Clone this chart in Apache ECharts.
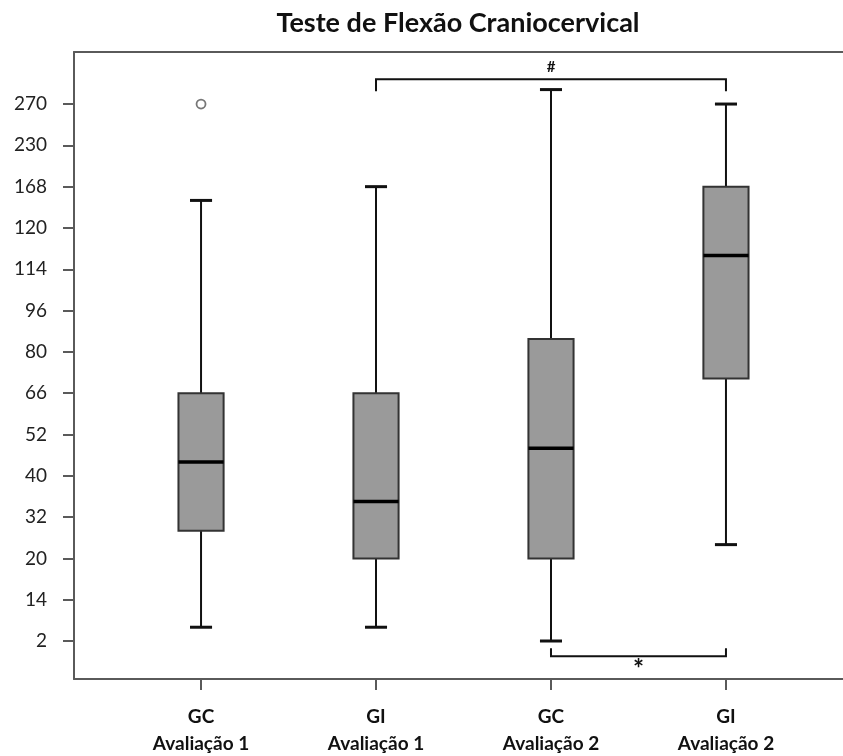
<!DOCTYPE html>
<html><head><meta charset="utf-8">
<script src="https://cdn.jsdelivr.net/npm/echarts@6/dist/echarts.min.js"></script>
<style>html,body{margin:0;padding:0;background:#fff;overflow:hidden}#c{width:843px;height:756px}</style>
</head><body><div id="c"></div>
<script>
// ---- data ----
const categories = ['GC\nAvaliação 1', 'GI\nAvaliação 1', 'GC\nAvaliação 2', 'GI\nAvaliação 2'];
const yTickLabels = [2, 14, 20, 32, 40, 52, 66, 80, 96, 114, 120, 168, 230, 270];
const whiskerLow  = [6, 6, 2, 24];
const q1          = [28, 20, 20, 71];
const median      = [44, 35, 48, 116];
const q3          = [66, 66, 85, 168];
const whiskerHigh = [152, 168, 284, 270];
const outliers    = [[0, 270]];
const sigFrom  = [1, 2];
const sigTo    = [3, 3];
const sigLevel = [294, -2.4];
const sigLabel = ['#', '*'];

// value -> position on the evenly spaced (ordinal-looking) axis
function toPos(v) {
  const t = yTickLabels, n = t.length;
  if (v <= t[0]) return (v - t[0]) / (t[1] - t[0]);
  if (v >= t[n - 1]) return (n - 1) + (v - t[n - 1]) / (t[n - 1] - t[n - 2]);
  for (let i = 0; i < n - 1; i++) {
    if (v >= t[i] && v <= t[i + 1]) return i + (v - t[i]) / (t[i + 1] - t[i]);
  }
}

const FONT = 'Lato, "Open Sans", sans-serif';
const chart = echarts.init(document.getElementById('c'), null, {renderer: 'canvas'});

const boxData = categories.map((c, i) => [i, toPos(whiskerLow[i]), toPos(q1[i]), toPos(median[i]), toPos(q3[i]), toPos(whiskerHigh[i])]);
const sigData = sigFrom.map((f, i) => [f, sigTo[i], toPos(sigLevel[i]), i === 0 ? 1 : -1, i]);
const AX = {color: '#5a5a5a', width: 2};

chart.setOption({
  animation: false,
  backgroundColor: '#fff',
  graphic: [{
    type: 'text', x: 458, y: 23,
    style: {text: 'Teste de Flexão Craniocervical', fill: '#111', font: 'bold 27px ' + FONT,
            textAlign: 'center', textVerticalAlign: 'middle'}
  }, {
    type: 'rect', z: 100, shape: {x: 826, y: 56, width: 20, height: 619}, style: {fill: '#fff'}
  }],
  grid: {left: 74, top: 52, width: 779, height: 627, show: false, outerBoundsMode: 'none', containLabel: false},
  xAxis: [{
    type: 'value', min: -0.726, max: 3.726,
    axisLine: {show: true, onZero: false, lineStyle: AX},
    axisTick: {show: true, customValues: [0, 1, 2, 3], length: 11, lineStyle: AX},
    axisLabel: {customValues: [0, 1, 2, 3], formatter: v => categories[Math.round(v)],
      fontFamily: FONT, fontWeight: 'bold', fontSize: 19, lineHeight: 27, margin: 24, color: '#111'},
    splitLine: {show: false}
  }, {
    type: 'value', position: 'top', min: -0.726, max: 3.726,
    axisLine: {show: true, onZero: false, lineStyle: AX},
    axisTick: {show: false}, axisLabel: {show: false}, splitLine: {show: false}
  }],
  yAxis: {
    type: 'value', min: -0.92, max: 14.26,
    axisLine: {show: true, onZero: false, lineStyle: AX},
    axisTick: {show: true, customValues: yTickLabels.map((t, i) => i), length: 11, lineStyle: AX},
    axisLabel: {customValues: yTickLabels.map((t, i) => i), formatter: v => String(yTickLabels[Math.round(v)]),
      fontFamily: FONT, fontSize: 19, margin: 27, color: '#222'},
    splitLine: {show: false}
  },
  series: [
    {
      type: 'custom',
      data: boxData,
      encode: {x: 0, y: [1, 2, 3, 4, 5]},
      renderItem: function (params, api) {
        const x = api.value(0);
        const pLow = api.coord([x, api.value(1)]);
        const pQ1 = api.coord([x, api.value(2)]);
        const pMed = api.coord([x, api.value(3)]);
        const pQ3 = api.coord([x, api.value(4)]);
        const pHigh = api.coord([x, api.value(5)]);
        const bw = api.size([0.258, 0])[0];
        const cw = api.size([0.126, 0])[0];
        const cx = pLow[0];
        const wStyle = {stroke: '#111', lineWidth: 2};
        return {type: 'group', children: [
          {type: 'line', shape: {x1: cx, y1: pLow[1], x2: cx, y2: pQ1[1]}, style: wStyle},
          {type: 'line', shape: {x1: cx, y1: pQ3[1], x2: cx, y2: pHigh[1]}, style: wStyle},
          {type: 'line', shape: {x1: cx - cw / 2, y1: pLow[1], x2: cx + cw / 2, y2: pLow[1]}, style: {stroke: '#111', lineWidth: 3}},
          {type: 'line', shape: {x1: cx - cw / 2, y1: pHigh[1], x2: cx + cw / 2, y2: pHigh[1]}, style: {stroke: '#111', lineWidth: 3}},
          {type: 'rect', shape: {x: cx - bw / 2, y: pQ3[1], width: bw, height: pQ1[1] - pQ3[1]},
            style: {fill: '#9a9a9a', stroke: '#333', lineWidth: 2}},
          {type: 'line', shape: {x1: cx - bw / 2, y1: pMed[1], x2: cx + bw / 2, y2: pMed[1]}, style: {stroke: '#000', lineWidth: 3.5}}
        ]};
      },
      z: 3
    },
    {
      type: 'scatter',
      data: outliers.map(o => [o[0], toPos(o[1])]),
      symbol: 'circle', symbolSize: 9,
      itemStyle: {color: '#fff', borderColor: '#555', borderWidth: 1.8},
      z: 4
    },
    {
      type: 'custom',
      data: sigData,
      encode: {x: [0, 1], y: 2},
      renderItem: function (params, api) {
        const a = api.coord([api.value(0), api.value(2)]);
        const b = api.coord([api.value(1), api.value(2)]);
        const dir = api.value(3);
        const lab = sigLabel[api.value(4)];
        const drop = dir > 0 ? 12 : -8;
        const st = {stroke: '#111', lineWidth: 2, fill: null};
        return {type: 'group', children: [
          {type: 'polyline', shape: {points: [[a[0], a[1] + drop], [a[0], a[1]], [b[0], b[1]], [b[0], b[1] + drop]]}, style: st},
          {type: 'text', x: (a[0] + b[0]) / 2, y: dir > 0 ? a[1] - 12 : a[1] + 13,
            style: {text: lab, fill: '#111', font: (dir > 0 ? 'bold 15px ' : 'bold 26px ') + FONT,
              textAlign: 'center', textVerticalAlign: 'middle'}}
        ]};
      },
      z: 5
    }
  ]
});
</script>
</body></html>
